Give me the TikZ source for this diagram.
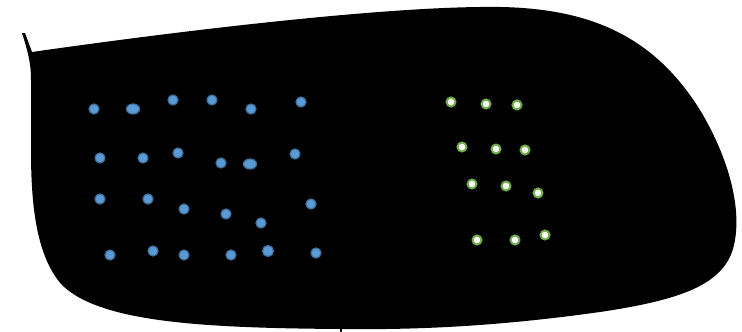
\documentclass[tikz,border=0pt]{standalone}
\usepackage{tikz}
\definecolor{dblue}{HTML}{5B9BD5}
\definecolor{dblueline}{HTML}{41719C}
\definecolor{dgreen}{HTML}{70AD47}
\tikzset{
  bdot/.style={circle,fill=dblue,draw=dblueline,line width=1.2pt,minimum size=10pt,inner sep=0pt},
  bwide/.style={ellipse,fill=dblue,draw=dblueline,line width=1.2pt,minimum width=13pt,minimum height=10pt,inner sep=0pt},
  gdot/.style={circle,fill=white,draw=dgreen,line width=2pt,minimum size=9pt,inner sep=0pt},
}
\usetikzlibrary{shapes.geometric}
\begin{document}
\begin{tikzpicture}[x=1pt,y=-1pt]
  \useasboundingbox (0,0) rectangle (742,332);
  % blob
  \fill[black] (32,52) .. controls (200,28) and (380,8) .. (480,7)
    .. controls (580,5) and (650,30) .. (700,110)
    .. controls (730,160) and (742,210) .. (734,245)
    .. controls (725,285) and (680,300) .. (600,312)
    .. controls (500,326) and (420,330) .. (341,329)
    .. controls (200,328) and (100,322) .. (62,285)
    .. controls (35,255) and (31,200) .. (31,150)
    -- (31,80) .. controls (31,65) and (29,55) .. (22,33)
    -- (25,33) -- cycle;
  \coordinate (t1) at (341,325);
  \coordinate (t2) at (341,332);
  \draw[black,line width=2pt] (t1) -- (t2);
  % blue points
  \foreach \x/\y [count=\i] in {94/109,173/100,212/100,251/109,301/102,
      100/158,143/158,178/153,221/163,295/154,
      100/199,148/199,184/209,226/214,261/223,311/204,
      110/255,153/251,184/255,231/255,316/253}
    \node[bdot] (b\i) at (\x,\y) {};
  \node[bwide] (bw1) at (133,109) {};
  \node[bwide] (bw2) at (250,164) {};
  \node[bdot,minimum height=11pt] (bt1) at (268,251) {};
  % green points
  \foreach \x/\y [count=\i] in {451/102,486/104,517/105,
      462/147,496/149,525/150,
      472/184,506/186,538/193,
      477/240,515/240,545/235}
    \node[gdot] (g\i) at (\x,\y) {};
\end{tikzpicture}
\end{document}
